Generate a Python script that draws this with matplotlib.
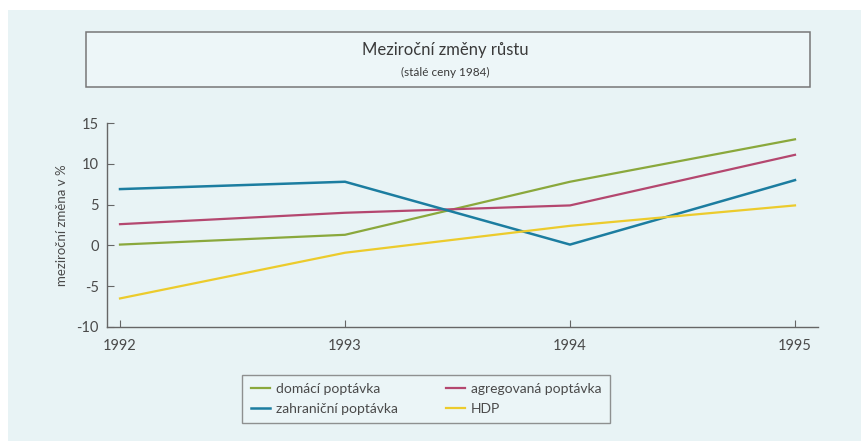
import matplotlib.pyplot as plt
from matplotlib.patches import Rectangle

# data
years = [1992, 1993, 1994, 1995]
domaci = [0.1, 1.3, 7.8, 13.0]
agregovana = [2.6, 4.0, 4.9, 11.1]
zahranicni = [6.9, 7.8, 0.1, 8.0]
hdp = [-6.5, -0.9, 2.4, 4.9]

series_labels = ['domácí poptávka', 'zahraniční poptávka',
                 'agregovaná poptávka', 'HDP']
y_ticks = [-10, -5, 0, 5, 10, 15]

plt.rcParams['font.family'] = ['Lato', 'DejaVu Sans']

bg = '#e8f3f5'
txt = '#4a4a4a'

fig = plt.figure(figsize=(8.61, 4.41), dpi=100)
fig.patch.set_facecolor('white')
# scanned page area
fig.patches.append(Rectangle((8/861, 0), 1, 1 - 10/441, transform=fig.transFigure,
                             facecolor=bg, edgecolor='none', zorder=-2))

# title box
fig.patches.append(Rectangle((86/861, 1 - 87/441), (810 - 86)/861, 55/441,
                             transform=fig.transFigure, facecolor='#edf6f8',
                             edgecolor='#777777', lw=1.1, zorder=-1))
fig.text(445/861, 1 - 50/441, 'Meziroční změny růstu', ha='center', va='center',
         fontsize=12, color='#3a3a3a')
fig.text(445/861, 1 - 72/441, '(stálé ceny 1984)', ha='center', va='center',
         fontsize=8.5, color='#3a3a3a')

ax = fig.add_axes([107/861, 1 - 327/441, (818 - 107)/861, (327 - 123)/441])
ax.set_facecolor('none')
ax.set_zorder(2)

l1, = ax.plot(years, domaci, color='#8aa83c', lw=1.6)
l3, = ax.plot(years, agregovana, color='#b4476f', lw=1.6)
l2, = ax.plot(years, zahranicni, color='#1c7da0', lw=1.8)
l4, = ax.plot(years, hdp, color='#eccb2c', lw=1.6)

ax.set_xlim(1992 - 13/225, 1995 + 23/225)
ax.set_ylim(-10, 15)
ax.set_xticks(years)
ax.set_yticks(y_ticks)
ax.set_yticklabels([str(v) for v in y_ticks])

for s in ['top', 'right']:
    ax.spines[s].set_visible(False)
for s in ['left', 'bottom']:
    ax.spines[s].set_color('#666666')
    ax.spines[s].set_linewidth(1.0)
ax.tick_params(direction='in', length=5, color='#666666', labelcolor=txt,
               labelsize=10.5)
ax.tick_params(axis='x', pad=9)
ax.tick_params(axis='y', pad=6)

ax.set_ylabel('meziroční změna v %', fontsize=9.5, color=txt, labelpad=6)

leg = fig.legend([l1, l2, l3, l4], series_labels, ncol=2,
                 loc='center', bbox_to_anchor=(426/861, 1 - 399/441),
                 frameon=True, fancybox=False, fontsize=10,
                 handlelength=1.4, handletextpad=0.4, columnspacing=3.5,
                 labelspacing=0.55, borderpad=0.6)
leg.get_frame().set_edgecolor('#777777')
leg.get_frame().set_facecolor('#edf6f8')
leg.get_frame().set_linewidth(1.0)
for t in leg.get_texts():
    t.set_color(txt)

fig.savefig('out.png', dpi=100, facecolor=fig.get_facecolor())
